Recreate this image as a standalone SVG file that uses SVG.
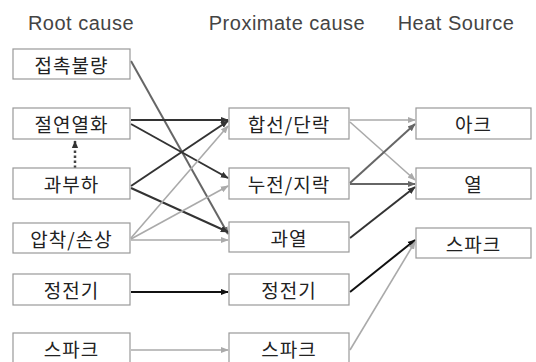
<svg xmlns="http://www.w3.org/2000/svg" width="536" height="362" viewBox="0 0 536 362">
<style>
.hdr{font-family:"Liberation Sans",Arial,sans-serif;font-size:20px;letter-spacing:0.5px;fill:#444;text-anchor:middle}
.box{fill:#fff;stroke:#999;stroke-width:1.2}
.lbl{font-family:"Noto Sans CJK KR","Noto Sans",sans-serif;font-size:19px;letter-spacing:1px;fill:#222;text-anchor:middle;dominant-baseline:central}
.dk{stroke:#333;stroke-width:2;fill:none}
.md{stroke:#666;stroke-width:2;fill:none}
.lt{stroke:#aaa;stroke-width:1.6;fill:none}
.bk{stroke:#111;stroke-width:2;fill:none}
</style>
<defs>
<marker id="aDk" viewBox="0 0 10 10" refX="9" refY="5" markerWidth="8" markerHeight="8" markerUnits="userSpaceOnUse" orient="auto"><path d="M0,1 L10,5 L0,9 z" fill="#333"/></marker>
<marker id="aMd" viewBox="0 0 10 10" refX="9" refY="5" markerWidth="8" markerHeight="8" markerUnits="userSpaceOnUse" orient="auto"><path d="M0,1 L10,5 L0,9 z" fill="#666"/></marker>
<marker id="aLt" viewBox="0 0 10 10" refX="9" refY="5" markerWidth="8" markerHeight="8" markerUnits="userSpaceOnUse" orient="auto"><path d="M0,1 L10,5 L0,9 z" fill="#aaa"/></marker>
<marker id="aBk" viewBox="0 0 10 10" refX="9" refY="5" markerWidth="8" markerHeight="8" markerUnits="userSpaceOnUse" orient="auto"><path d="M0,1 L10,5 L0,9 z" fill="#111"/></marker>
</defs>
<g id="headers">
<text class="hdr" x="81" y="30">Root cause</text>
<text class="hdr" x="287" y="30">Proximate cause</text>
<text class="hdr" x="456" y="30">Heat Source</text>
</g>
<g id="connectors">
<line class="md" x1="131" y1="61" x2="228" y2="234" marker-end="url(#aMd)"/>
<line class="dk" x1="131" y1="120" x2="228" y2="120" marker-end="url(#aDk)"/>
<line class="dk" x1="131" y1="124" x2="228" y2="178" marker-end="url(#aDk)"/>
<line class="dk" x1="131" y1="186" x2="228" y2="121" marker-end="url(#aDk)"/>
<line class="dk" x1="131" y1="188" x2="228" y2="232" marker-end="url(#aDk)"/>
<line x1="75" y1="168" x2="75" y2="141" stroke="#444" stroke-width="2.5" stroke-dasharray="2.5,2.5" marker-end="url(#aDk)"/>
<line class="lt" x1="131" y1="238" x2="228" y2="126" marker-end="url(#aLt)"/>
<line class="lt" x1="131" y1="239" x2="228" y2="186" marker-end="url(#aLt)"/>
<line class="lt" x1="131" y1="240" x2="228" y2="240" marker-end="url(#aLt)"/>
<line class="bk" x1="131" y1="292" x2="228" y2="292" marker-end="url(#aBk)"/>
<line class="lt" x1="131" y1="350" x2="228" y2="350" marker-end="url(#aLt)"/>
<line class="lt" x1="350" y1="120" x2="415" y2="120" stroke-width="1.2" marker-end="url(#aLt)"/>
<line class="lt" x1="350" y1="122" x2="415" y2="180" stroke-width="1.2" marker-end="url(#aLt)"/>
<line class="md" x1="350" y1="183" x2="415" y2="124" stroke="#777" marker-end="url(#aMd)"/>
<line class="md" x1="350" y1="184" x2="415" y2="184" stroke="#777" marker-end="url(#aMd)"/>
<line class="dk" x1="350" y1="238" x2="415" y2="187" marker-end="url(#aDk)"/>
<line class="bk" x1="350" y1="292" x2="415" y2="240" marker-end="url(#aBk)"/>
<line class="lt" x1="350" y1="350" x2="415" y2="242" marker-end="url(#aLt)"/>
</g>
<g id="root-1"><rect class="box" x="13" y="49" width="117" height="30"/><text class="lbl" x="71.5" y="64">접촉불량</text></g>
<g id="root-2"><rect class="box" x="13" y="108" width="117" height="31"/><text class="lbl" x="71.5" y="123.5">절연열화</text></g>
<g id="root-3"><rect class="box" x="13" y="168" width="117" height="31"/><text class="lbl" x="71.5" y="183.5">과부하</text></g>
<g id="root-4"><rect class="box" x="13" y="223" width="117" height="30"/><text class="lbl" x="71.5" y="238">압착/손상</text></g>
<g id="root-5"><rect class="box" x="13" y="274" width="117" height="31"/><text class="lbl" x="71.5" y="289.5">정전기</text></g>
<g id="root-6"><rect class="box" x="13" y="333" width="117" height="31"/><text class="lbl" x="71.5" y="348.5">스파크</text></g>
<g id="prox-1"><rect class="box" x="229" y="108" width="120" height="31"/><text class="lbl" x="289" y="123.5">합선/단락</text></g>
<g id="prox-2"><rect class="box" x="229" y="168" width="120" height="31"/><text class="lbl" x="289" y="183.5">누전/지락</text></g>
<g id="prox-3"><rect class="box" x="229" y="222" width="120" height="30"/><text class="lbl" x="289" y="237">과열</text></g>
<g id="prox-4"><rect class="box" x="229" y="274" width="120" height="31"/><text class="lbl" x="289" y="289.5">정전기</text></g>
<g id="prox-5"><rect class="box" x="229" y="333" width="120" height="31"/><text class="lbl" x="289" y="348.5">스파크</text></g>
<g id="heat-1"><rect class="box" x="416" y="108" width="115" height="31"/><text class="lbl" x="473.5" y="123.5">아크</text></g>
<g id="heat-2"><rect class="box" x="416" y="168" width="115" height="31"/><text class="lbl" x="473.5" y="183.5">열</text></g>
<g id="heat-3"><rect class="box" x="416" y="228" width="115" height="30"/><text class="lbl" x="473.5" y="243">스파크</text></g>
</svg>
